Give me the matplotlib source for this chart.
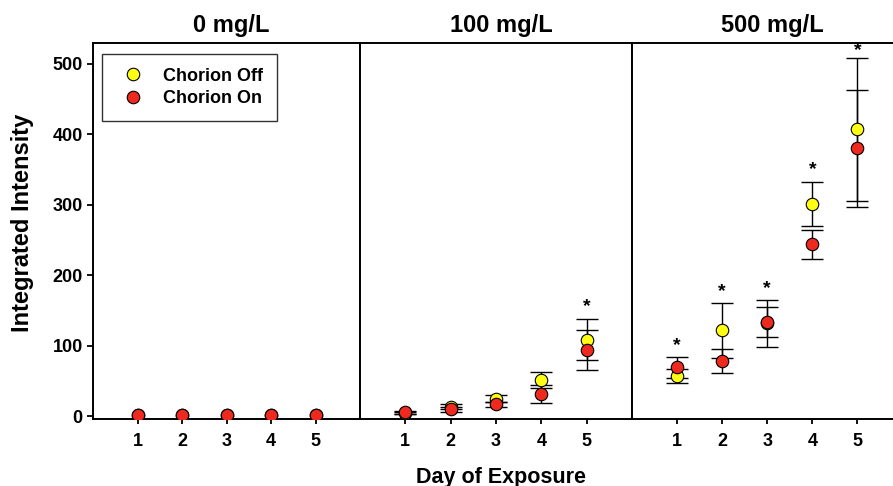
import matplotlib
matplotlib.use("Agg")
import matplotlib.pyplot as plt

plt.rcParams['font.family'] = ['Liberation Sans', 'DejaVu Sans']
plt.rcParams['font.weight'] = 'bold'

days = [1, 2, 3, 4, 5]
panel_titles = ['0 mg/L', '100 mg/L', '500 mg/L']

# Chorion Off (yellow) means and errors per concentration
off_means = [[2, 2, 1.5, 2, 2],
             [5, 14, 25, 52, 109],
             [58, 122, 132, 301, 407]]
off_errs = [[0, 0, 0, 0, 0],
            [2, 3, 5, 11, 29],
            [10, 39, 33, 31, 101]]

# Chorion On (red)
on_means = [[2.5, 2, 1.5, 2.5, 2],
            [6, 10, 17, 32, 94],
            [70, 78, 134, 244, 380]]
on_errs = [[0, 0, 0, 0, 0],
           [2, 3, 4, 13, 28],
           [15, 17, 21, 20, 83]]

# heights of the significance stars (None = no star)
star_y = [[None, None, None, None, None],
          [None, None, None, None, 160],
          [104, 180, 185, 353, 522]]

yticks = [0, 100, 200, 300, 400, 500]

fig = plt.figure(figsize=(8.93, 4.86), dpi=100)

W, H = 893, 486
edges = [(93, 360), (360, 632), (632, 902.5)]
top_px, bot_px = 42.7, 419.3

yellow = '#ffff14'
red = '#ee2a1e'

axes = []
for i, (x0, x1) in enumerate(edges):
    ax = fig.add_axes([x0 / W, 1 - bot_px / H, (x1 - x0) / W, (bot_px - top_px) / H])
    axes.append(ax)

    for means, errs, col, lab in [(off_means[i], off_errs[i], yellow, 'Chorion Off'),
                                  (on_means[i], on_errs[i], red, 'Chorion On')]:
        if any(e > 0 for e in errs):
            ax.errorbar(days, means, yerr=errs, fmt='none', ecolor='black',
                        elinewidth=1.0, capsize=8, capthick=1.0, zorder=2)
        ax.plot(days, means, 'o', ms=9, mfc=col, mec='black', mew=0.8,
                ls='none', label=lab, zorder=3)

    for d, sy in zip(days, star_y[i]):
        if sy is not None:
            # asterisk glyph sits well above the baseline
            ax.annotate('*', (d, sy), xytext=(0, -5), textcoords='offset points',
                        ha='center', va='baseline', fontsize=14, fontweight='bold')

    ax.set_xlim(0, 6)
    ax.set_ylim(-4, 530)
    ax.set_xticks(days)
    ax.set_xticklabels([str(d) for d in days])
    ax.tick_params(axis='x', direction='out', length=3.6, width=1.3, pad=6,
                   labelsize=13)
    if i == 0:
        ax.set_yticks(yticks)
        ax.tick_params(axis='y', direction='out', length=4.3, width=1.3, pad=3,
                       labelsize=13)
    else:
        ax.set_yticks([])
    for sp in ax.spines.values():
        sp.set_linewidth(1.4)
    ax.set_title(panel_titles[i], fontsize=17, fontweight='bold', pad=7.5, x=0.518)

leg = axes[0].legend(loc='upper left', bbox_to_anchor=(0.034, 0.970), borderaxespad=0,
                     frameon=True, fancybox=False, edgecolor='black', fontsize=13,
                     handlelength=1.94, handletextpad=0.7, borderpad=0.75,
                     labelspacing=0.33, markerscale=1.0)
leg.get_frame().set_linewidth(1.0)

fig.text(0.025, 0.541, 'Integrated Intensity', rotation=90, ha='center', va='center',
         fontsize=17, fontweight='bold')
fig.text(501 / W, 1 - 482.7 / H, 'Day of Exposure', ha='center', va='baseline',
         fontsize=15.5, fontweight='bold')

fig.savefig('out.png', dpi=100)
